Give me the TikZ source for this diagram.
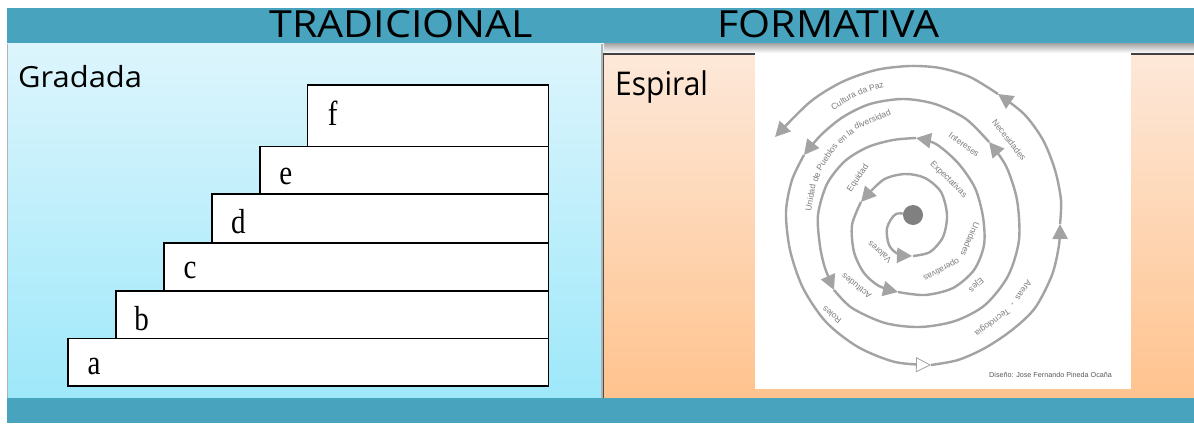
\documentclass[tikz,border=0pt]{standalone}
\usepackage{fontspec}
\setmainfont{Liberation Serif}
\newfontfamily\titlefont{Open Sans}
\newfontfamily\spfont{Liberation Sans}
\usetikzlibrary{arrows.meta}
\definecolor{bandteal}{HTML}{47A3BE}
\definecolor{lpTop}{HTML}{DDF5FC}
\definecolor{lpBot}{HTML}{9EE8FA}
\definecolor{rpTop}{HTML}{FDE8D9}
\definecolor{rpBot}{HTML}{FFC38E}
\definecolor{spgray}{HTML}{A3A3A3}
\definecolor{sptext}{HTML}{7C7C7C}
\tikzset{
  stairbox/.style={draw=black, fill=white, line width=1.5pt, anchor=north west, inner sep=0pt},
  steplabel/.style={font=\fontsize{29}{30}\selectfont, inner sep=0pt},
  bigtitle/.style={font=\titlefont\fontsize{37.4}{40}\selectfont, anchor=base, inner sep=0pt},
  paneltitle/.style={font=\titlefont\fontsize{30}{32}\selectfont, anchor=base west, inner sep=0pt},
  spline/.style={draw=spgray, line width=2.4pt},
  sptip/.style={-{Triangle[length=15pt,width=15pt]}},
  sptipw/.style={-{Triangle[length=15pt,width=15pt,fill=white,line width=0.8pt]}},
  spw/.style={font=\spfont\fontsize{8.5}{10}\selectfont, text=sptext, anchor=base, inner sep=0pt, rotate=#1-90}
}
\begin{document}
\begin{tikzpicture}[x=1pt,y=1pt]
\useasboundingbox (0,0) rectangle (1194,-423);
\fill[white] (0,0) rectangle (1194,-423);
% header band and shadow
\fill[bandteal] (7,-7.5) rectangle (1194,-43.5);
\shade[top color=black!35,bottom color=white] (604,-43.5) rectangle (1194,-53);
% left panel
\shade[top color=lpTop,bottom color=lpBot] (7,-43.5) rectangle (604,-397.7);
\draw[gray!60, line width=0.8pt] (7.4,-43.5) -- (7.4,-397.7);
% right panel
\shade[top color=rpTop,bottom color=rpBot] (604,-54) rectangle (1194,-397.7);
\draw[black!30,line width=2pt] (601.6,-44) -- (601.6,-397.7);
\draw[black!70,line width=1.4pt] (603.5,-53.3) -- (603.5,-397.7);
\draw[black!75,line width=1.2pt] (603.5,-54) -- (1194,-54);
% picture area
\fill[white] (755,-53.2) rectangle (1131,-389);
% bottom band
\fill[bandteal] (7,-397.7) rectangle (1194,-423);

% titles
\node[bigtitle] (trad) at (401.5,-37) {\scalebox{1.1}[1]{TRADICIONAL}};
\node[bigtitle] (form) at (828.5,-37.5) {\scalebox{1.1}[1]{FORMATIVA}};
\node[paneltitle] (grad) at (18,-87.3) {\scalebox{1.03}[0.97]{Gradada}};
\node[paneltitle] (espi) at (615,-95) {\scalebox{1}[1.09]{Espiral}};

% stairs
\node[stairbox, minimum width=240.8pt, minimum height=61.7pt] (boxf) at (306.7,-84) {};
\node[stairbox, minimum width=288.5pt, minimum height=47.6pt] (boxe) at (259,-145.7) {};
\node[stairbox, minimum width=336.5pt, minimum height=49pt] (boxd) at (211,-193.3) {};
\node[stairbox, minimum width=384.2pt, minimum height=47.7pt] (boxc) at (163.3,-242.3) {};
\node[stairbox, minimum width=432.2pt, minimum height=47.7pt] (boxb) at (115.3,-290) {};
\node[stairbox, minimum width=480.3pt, minimum height=47.3pt] (boxa) at (67.2,-337.7) {};
\node[steplabel] (lf) at (332.7,-113.3) {\scalebox{1}[1.2]{f}};
\node[steplabel] (le) at (285.7,-176.7) {\scalebox{1}[1.2]{e}};
\node[steplabel] (ld) at (238.3,-221.7) {\scalebox{1}[1.2]{d}};
\node[steplabel] (lc) at (190,-270) {\scalebox{1}[1.2]{c}};
\node[steplabel] (lb) at (141.7,-318.3) {\scalebox{1}[1.2]{b}};
\node[steplabel] (la) at (94,-367) {\scalebox{1}[1.2]{a}};

% spiral
\draw[spline,sptip] plot[smooth] coordinates {(913,-215) (896,-214) (887,-228) (889,-245) (898,-254) (912,-256)};
\draw[spline,sptip] plot[smooth] coordinates {(913,-256) (930,-252) (943,-237) (947,-215) (941,-192) (925,-178) (905,-174) (883,-180) (861,-202)};
\draw[spline,sptip] plot[smooth] coordinates {(861,-202) (852,-225) (854,-252) (864,-273) (879,-286) (898,-292)};
\draw[spline,sptip] plot[smooth] coordinates {(898,-292) (925,-295) (953,-288) (974,-270) (984,-245) (983,-217) (975,-188) (958,-163) (936,-144) (916,-138)};
\draw[spline,sptip] plot[smooth] coordinates {(916,-138) (893,-140) (868,-147) (845,-161) (827,-184) (818,-215) (820,-246) (825,-268) (834,-290)};
\draw[spline,sptip] plot[smooth] coordinates {(834,-290) (852,-308) (885,-323) (920,-327) (955,-321) (985,-305) (1008,-276) (1019,-240) (1017,-200) (1006,-166) (989,-142)};
\draw[spline,sptip] plot[smooth] coordinates {(989,-142) (966,-119) (935,-104) (903,-99) (870,-104) (843,-117) (821,-135) (804,-155)};
\draw[spline,sptipw] plot[smooth] coordinates {(804,-155) (792,-180) (786,-212) (790,-250) (803,-288) (826,-322) (858,-347) (895,-362) (931,-365)};
\draw[spline,sptip] plot[smooth] coordinates {(931,-365) (958,-360) (985,-348) (1012,-330) (1035,-308) (1052,-275) (1059,-245) (1060,-224)};
\draw[spline,sptip] plot[smooth] coordinates {(1060,-224) (1061,-200) (1055,-170) (1043,-140) (1024,-114) (998,-94)};
\draw[spline,sptip] plot[smooth] coordinates {(998,-94) (970,-77) (940,-68) (910,-66) (876,-70) (842,-82) (810,-102) (775,-137)};
\fill[black!50] (913,-215) circle[radius=10];

% spiral labels (words placed along the turns, read clockwise)
\begin{scope}[shift={(913,-215)}]
\node[spw=121.3] (w1) at (121.3:131) {Cultura};
\node[spw=112.2] (w2) at (112.2:131) {da};
\node[spw=105.9] (w3) at (105.9:131) {Paz};
\node[spw=170.3] (w4) at (170.3:101) {Unidad};
\node[spw=158.6] (w5) at (158.6:101) {de};
\node[spw=145.9] (w6) at (145.9:101) {Pueblos};
\node[spw=133.1] (w7) at (133.1:101) {en};
\node[spw=127.2] (w8) at (127.2:101) {la};
\node[spw=113.0] (w9) at (113.0:101) {diversidad};
\node[spw=146] (w10) at (146:64) {Equidad};
\node[spw=54] (w11) at (54:84) {Intereses};
\node[spw=38] (w12) at (38:119) {Necesidades};
\node[spw=45] (w13) at (45:48) {Expectativas};
\node[spw=-22.9] (w14) at (-22.9:59) {Unidades};
\node[spw=-62.4] (w15) at (-62.4:59) {operativas};
\node[spw=-48] (w16) at (-48:92) {Ejes};
\node[spw=-34.3] (w17) at (-34.3:131) {Areas};
\node[spw=-41.8] (w18) at (-41.8:131) {-};
\node[spw=-53.6] (w19) at (-53.6:131) {Tecnologia};
\node[spw=231] (w20) at (231:126) {Roles};
\node[spw=231.6] (w21) at (231.6:88) {Actitudes};
\node[spw=228] (w22) at (228:47) {Valores};
\end{scope}
\node[font=\spfont\fontsize{7.2}{8}\selectfont, text=black!65, anchor=west, inner sep=0pt] (credit) at (989,-375) {Diseño: Jose Fernando Pineda Ocaña};
\end{tikzpicture}
\end{document}
